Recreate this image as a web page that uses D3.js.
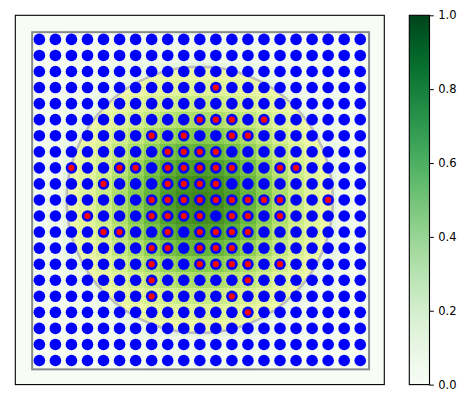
<!DOCTYPE html>
<html>
<head>
<meta charset="utf-8">
<script src="https://cdn.jsdelivr.net/npm/d3@7"></script>
<style>
  body { margin: 0; background: #fff; }
  svg { display: block; }
  text { font-family: "DejaVu Sans", sans-serif; }
</style>
</head>
<body>
<svg id="chart" width="469" height="403"></svg>
<script>
// ---- data ----
const gridCols = d3.range(0, 21);   // column indices of the dot grid
const gridRows = d3.range(0, 21);   // row indices of the dot grid

// heatmap values (row by row, top to bottom)
const heatValues = [
 [0.00,0.00,0.01,0.01,0.01,0.02,0.02,0.03,0.04,0.04,0.04,0.04,0.04,0.03,0.02,0.02,0.01,0.01,0.01,0.00,0.00],
 [0.00,0.01,0.01,0.02,0.02,0.03,0.04,0.06,0.06,0.07,0.07,0.07,0.06,0.06,0.04,0.03,0.02,0.02,0.01,0.01,0.00],
 [0.01,0.01,0.02,0.03,0.04,0.06,0.08,0.09,0.11,0.12,0.12,0.12,0.11,0.09,0.08,0.06,0.04,0.03,0.02,0.01,0.01],
 [0.01,0.02,0.03,0.04,0.06,0.09,0.12,0.15,0.18,0.19,0.20,0.19,0.18,0.15,0.12,0.09,0.06,0.04,0.03,0.02,0.01],
 [0.01,0.02,0.04,0.06,0.10,0.14,0.18,0.23,0.26,0.29,0.30,0.29,0.26,0.23,0.18,0.14,0.10,0.06,0.04,0.02,0.01],
 [0.02,0.03,0.06,0.09,0.14,0.19,0.26,0.32,0.37,0.41,0.42,0.41,0.37,0.32,0.26,0.19,0.14,0.09,0.06,0.03,0.02],
 [0.02,0.04,0.08,0.12,0.18,0.26,0.34,0.42,0.49,0.54,0.56,0.54,0.49,0.42,0.34,0.26,0.18,0.12,0.08,0.04,0.02],
 [0.03,0.06,0.09,0.15,0.23,0.32,0.42,0.52,0.61,0.67,0.69,0.67,0.61,0.52,0.42,0.32,0.23,0.15,0.09,0.06,0.03],
 [0.04,0.06,0.11,0.18,0.26,0.37,0.49,0.61,0.72,0.79,0.81,0.79,0.72,0.61,0.49,0.37,0.26,0.18,0.11,0.06,0.04],
 [0.04,0.07,0.12,0.19,0.29,0.41,0.54,0.67,0.79,0.86,0.89,0.86,0.79,0.67,0.54,0.41,0.29,0.19,0.12,0.07,0.04],
 [0.04,0.07,0.12,0.20,0.30,0.42,0.56,0.69,0.81,0.89,0.92,0.89,0.81,0.69,0.56,0.42,0.30,0.20,0.12,0.07,0.04],
 [0.04,0.07,0.12,0.19,0.29,0.41,0.54,0.67,0.79,0.86,0.89,0.86,0.79,0.67,0.54,0.41,0.29,0.19,0.12,0.07,0.04],
 [0.04,0.06,0.11,0.18,0.26,0.37,0.49,0.61,0.72,0.79,0.81,0.79,0.72,0.61,0.49,0.37,0.26,0.18,0.11,0.06,0.04],
 [0.03,0.06,0.09,0.15,0.23,0.32,0.42,0.52,0.61,0.67,0.69,0.67,0.61,0.52,0.42,0.32,0.23,0.15,0.09,0.06,0.03],
 [0.02,0.04,0.08,0.12,0.18,0.26,0.34,0.42,0.49,0.54,0.56,0.54,0.49,0.42,0.34,0.26,0.18,0.12,0.08,0.04,0.02],
 [0.02,0.03,0.06,0.09,0.14,0.19,0.26,0.32,0.37,0.41,0.42,0.41,0.37,0.32,0.26,0.19,0.14,0.09,0.06,0.03,0.02],
 [0.01,0.02,0.04,0.06,0.10,0.14,0.18,0.23,0.26,0.29,0.30,0.29,0.26,0.23,0.18,0.14,0.10,0.06,0.04,0.02,0.01],
 [0.01,0.02,0.03,0.04,0.06,0.09,0.12,0.15,0.18,0.19,0.20,0.19,0.18,0.15,0.12,0.09,0.06,0.04,0.03,0.02,0.01],
 [0.01,0.01,0.02,0.03,0.04,0.06,0.08,0.09,0.11,0.12,0.12,0.12,0.11,0.09,0.08,0.06,0.04,0.03,0.02,0.01,0.01],
 [0.00,0.01,0.01,0.02,0.02,0.03,0.04,0.06,0.06,0.07,0.07,0.07,0.06,0.06,0.04,0.03,0.02,0.02,0.01,0.01,0.00],
 [0.00,0.00,0.01,0.01,0.01,0.02,0.02,0.03,0.04,0.04,0.04,0.04,0.04,0.03,0.02,0.02,0.01,0.01,0.01,0.00,0.00]
];

// highlighted (red) points: [column, row]
const redPoints = [
 [11,3],
 [10,5],[11,5],[12,5],[14,5],
 [7,6],[9,6],[12,6],[13,6],
 [8,7],[9,7],[10,7],[11,7],
 [2,8],[5,8],[6,8],[8,8],[9,8],[10,8],[11,8],[12,8],[15,8],[16,8],
 [4,9],[8,9],[9,9],[10,9],[11,9],
 [7,10],[8,10],[9,10],[10,10],[11,10],[12,10],[13,10],[14,10],[15,10],[18,10],
 [3,11],[7,11],[8,11],[9,11],[10,11],[12,11],[13,11],[15,11],
 [4,12],[5,12],[8,12],[10,12],[11,12],[12,12],[13,12],
 [7,13],[8,13],[10,13],[11,13],[12,13],
 [7,14],[10,14],[11,14],[12,14],[13,14],[15,14],
 [7,15],[13,15],
 [7,16],[12,16],
 [13,17]
];

const circleCenter = [10, 10];
const circleRadius = 8.3;
const frameBounds = [-0.45, 20.55];
const colorbarTicks = [0.0, 0.2, 0.4, 0.6, 0.8, 1.0];
const colorbarTickLabels = ["0.0", "0.2", "0.4", "0.6", "0.8", "1.0"];

// ---- layout ----
const svg = d3.select("#chart");
const ax = { left: 15.3, top: 15.3, right: 384.3, bottom: 384.6 };
const x = d3.scaleLinear().domain([-1.5, 21.5]).range([ax.left, ax.right]);
const y = d3.scaleLinear().domain([-1.5, 21.5]).range([ax.top, ax.bottom]);
const color = d3.scaleSequential(d3.interpolateGreens).domain([0, 1]);

// axes background
svg.append("rect")
  .attr("x", ax.left).attr("y", ax.top)
  .attr("width", ax.right - ax.left).attr("height", ax.bottom - ax.top)
  .attr("fill", color(0));

// heatmap
const cells = [];
heatValues.forEach((row, j) => row.forEach((v, i) => cells.push({ i: gridCols[i], j: gridRows[j], v })));
svg.append("g").selectAll("rect").data(cells).join("rect")
  .attr("x", d => x(d.i - 0.5))
  .attr("y", d => y(d.j - 0.5))
  .attr("width", d => x(d.i + 0.5) - x(d.i - 0.5))
  .attr("height", d => y(d.j + 0.5) - y(d.j - 0.5))
  .attr("fill", d => color(d.v))
  .attr("shape-rendering", "crispEdges");

// translucent circle
svg.append("circle")
  .attr("cx", x(circleCenter[0])).attr("cy", y(circleCenter[1]))
  .attr("r", x(circleRadius) - x(0))
  .attr("fill", "yellow").attr("fill-opacity", 0.25)
  .attr("stroke", "#bdbdbd").attr("stroke-width", 2.5);

// gray frame rectangle
svg.append("rect")
  .attr("x", x(frameBounds[0])).attr("y", y(frameBounds[0]))
  .attr("width", x(frameBounds[1]) - x(frameBounds[0]))
  .attr("height", y(frameBounds[1]) - y(frameBounds[0]))
  .attr("fill", "none").attr("stroke", "#8a8a8a").attr("stroke-width", 2);

// blue dots
const allPts = [];
gridRows.forEach(j => gridCols.forEach(i => allPts.push([i, j])));
svg.append("g").selectAll("circle").data(allPts).join("circle")
  .attr("cx", d => x(d[0])).attr("cy", d => y(d[1]))
  .attr("r", 5.8).attr("fill", "#0000ff");

// red dots
svg.append("g").selectAll("circle").data(redPoints).join("circle")
  .attr("cx", d => x(d[0])).attr("cy", d => y(d[1]))
  .attr("r", 3.1).attr("fill", "#ff0000");

// axes frame
svg.append("rect")
  .attr("x", ax.left).attr("y", ax.top)
  .attr("width", ax.right - ax.left).attr("height", ax.bottom - ax.top)
  .attr("fill", "none").attr("stroke", "#000").attr("stroke-width", 1.1);

// ---- colorbar ----
const cb = { left: 409.3, right: 429.5, top: 15.3, bottom: 384.6 };
const defs = svg.append("defs");
const grad = defs.append("linearGradient").attr("id", "cbgrad")
  .attr("x1", "0").attr("y1", "1").attr("x2", "0").attr("y2", "0");
d3.range(0, 1.0001, 0.02).forEach(t => {
  grad.append("stop").attr("offset", t).attr("stop-color", color(t));
});
svg.append("rect")
  .attr("x", cb.left).attr("y", cb.top)
  .attr("width", cb.right - cb.left).attr("height", cb.bottom - cb.top)
  .attr("fill", "url(#cbgrad)");
const cy = d3.scaleLinear().domain([0, 1]).range([cb.bottom, cb.top]);
const cbAxis = d3.axisRight(cy).tickValues(colorbarTicks)
  .tickFormat((d, k) => colorbarTickLabels[k]).tickSize(4.3).tickPadding(4.5);
const gAx = svg.append("g").attr("transform", `translate(${cb.right},0)`).call(cbAxis);
gAx.select(".domain").remove();
gAx.selectAll("line").attr("stroke", "#000").attr("stroke-width", 1);
gAx.selectAll("text").attr("font-size", "11.5px").attr("fill", "#000")
  .attr("font-family", "DejaVu Sans, sans-serif");
svg.append("rect")
  .attr("x", cb.left).attr("y", cb.top)
  .attr("width", cb.right - cb.left).attr("height", cb.bottom - cb.top)
  .attr("fill", "none").attr("stroke", "#000").attr("stroke-width", 1.1);
</script>
</body>
</html>
